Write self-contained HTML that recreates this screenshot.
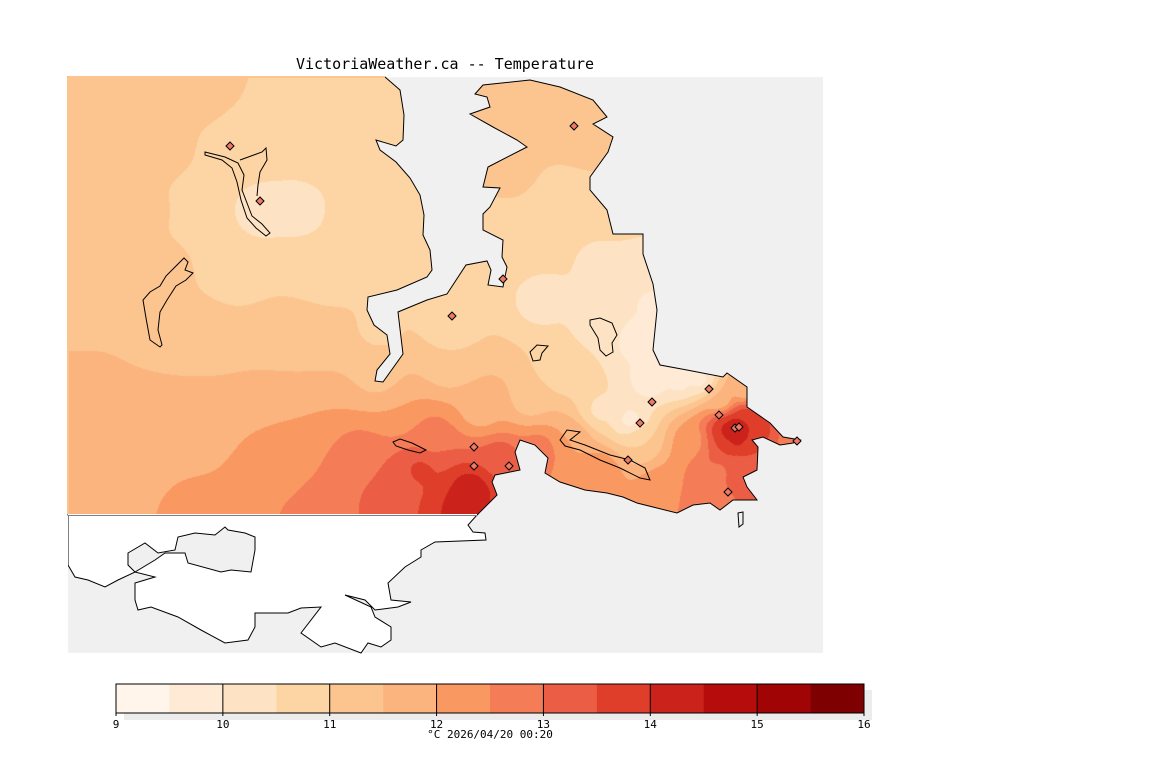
<!DOCTYPE html>
<html><head><meta charset="utf-8"><style>
html,body{margin:0;padding:0;background:#fff;}
#wrap{position:relative;width:1152px;height:768px;overflow:hidden;}
canvas,svg{position:absolute;left:0;top:0;}
text{font-family:"DejaVu Sans Mono","Liberation Mono",monospace;}
</style></head><body>
<div id="wrap">
<canvas id="cv" width="1152" height="768"></canvas>
<svg id="sv" width="1152" height="768"></svg>
</div>
<script>
// Control observations: easting / northing in km (map units), temperature °C
const obsE = [0.7,13.2,25.2,32.2, 0.7,9.2,17.2,26.2,33.2, 0.7,8.2,13.2,19.2,23.2,28.2,34.2, 0.7,9.2,16.2,25.2,33.2, 0.7,13.2,23.2,31.2,38.2, 0.7,18.2,31.2,38.2, 0.7,13.2,23.2,33.2,41.2, 0.7,11.2,21.2,29.2,35.2,40.2,43.2, 0.7,13.2,25.2,33.2,37.7,
 43.2,50.2,53.2,44.2,49.2,53.2,45.2,53.2,57.2,47.2,53.2,57.2,58.2,49.2,46.2,53.2,57.2,50.2,53.2,59.2,63.2,63.2,65.2,66.9,69.2,72.2,68.2,65.2,62.2,67.7,
 39.2,33.2,36.2,56.2,61.2,58.2,66.9,65.7,67.7,66.9,47.2];
const obsN = [56.3,56.3,56.3,56.3, 50.3,50.3,50.3,50.3,50.3, 44.3,44.3,44.3,44.3,44.3,43.8,42.3, 38.3,38.3,38.3,38.3,38.3, 32.3,32.3,32.3,32.3,33.3, 28.3,28.3,27.8,29.3, 23.3,22.3,23.3,24.3,24.3, 18.3,18.3,18.3,19.3,18.3,16.3,19.3, 13.8,13.8,13.8,13.8,13.8,
 55.3,54.3,51.3,48.3,45.3,44.3,40.3,39.3,37.3,35.3,33.3,31.3,27.3,28.3,25.3,24.3,21.3,21.3,18.3,16.3,15.3,27.3,25.3,22.5,22.3,21.3,18.3,18.3,21.3,26.3,
 14.3,16.3,21.3,23.3,27.3,35.3,20.8,22.5,23.8,19.3,20.3];
const obsT = [11.3,11.2,10.8,10.8, 11.3,11.2,10.7,10.7,10.7, 11.3,11.1,10.6,10.3,10.3,10.6,10.5, 11.3,11.2,10.7,10.8,10.6, 11.4,11.2,11.1,10.9,10.6, 11.6,11.5,11.3,11.0, 11.7,11.9,12.0,12.0,11.8, 11.8,12.0,12.4,12.9,13.6,14.4,13.4, 11.9,12.1,12.8,13.4,14.0,
 11.3,11.3,11.2,11.1,10.9,10.7,10.6,10.4,10.2,10.3,10.2,9.6,9.6,10.6,11.3,10.4,11.0,12.0,12.4,12.4,12.6,9.8,11.5,14.9,13.6,12.7,13.2,12.9,12.2,11.5,
 14.3,13.3,12.9,9.8,9.8,9.9,14.1,14.1,13.8,13.3,12.8];
// Station markers (km)
const stE = [16.2,19.2,50.6,43.5,38.4,58.4,57.2,64.1,65.1,66.7,67.1,40.6,40.6,44.1,66.0,72.9,56.0];
const stN = [50.7,45.2,52.7,37.4,33.7,25.1,23.0,26.4,23.8,22.5,22.6,20.6,18.7,18.7,16.1,21.2,19.3];
// Colour bar
const levels = [9,9.5,10,10.5,11,11.5,12,12.5,13,13.5,14,14.5,15,15.5,16];
const colors = ["#fff5eb","#feead5","#fde3c3","#fdd5a5","#fcc590","#fcb47e","#fa9862","#f47c56","#eb5e45","#de3e2a","#cb231c","#b70c0c","#a00404","#7f0000"];
const tickLabels = ["9","10","11","12","13","14","15","16"];

const X = e => 68 + e*10, Y = n => 653 - n*10;
const cbX = v => 116 + (v-9)/(16-9)*748;

const landD = "M68,77 L385,77 L400,90 L404,115 L403,140 L396,146 L376,140 L380,150 L396,162 L410,178 L420,195 L424,215 L423,235 L430,250 L432,270 L427,277 L397,290 L368,297 L367,310 L374,325 L387,335 L390,354 L377,370 L375,381 L383,382 L403,354 L398,312 L427,300 L447,294 L466,265 L487,261 L491,270 L488,285 L503,287 L507,267 L502,257 L503,240 L483,230 L483,214 L490,207 L500,188 L483,187 L488,167 L527,147 L517,140 L493,127 L470,114 L490,107 L487,97 L475,94 L483,85 L530,80 L560,87 L593,100 L607,117 L593,124 L613,137 L608,152 L590,177 L590,190 L607,210 L613,234 L643,234 L643,254 L653,284 L657,310 L653,350 L660,365 L687,370 L723,377 L727,373 L747,387 L747,407 L770,423 L783,437 L800,440 L793,443 L780,445 L763,437 L752,440 L758,447 L757,470 L743,477 L747,487 L757,500 L733,500 L720,510 L710,503 L693,505 L677,513 L653,507 L637,503 L623,497 L607,493 L585,490 L560,482 L545,473 L548,458 L535,445 L520,440 L515,452 L520,470 L510,472 L495,475 L492,482 L497,495 L490,502 L477,515 L68,515 Z";

const cv = document.getElementById('cv'), ctx = cv.getContext('2d');
ctx.fillStyle = "#f0f0f0"; ctx.fillRect(68,77,755,576);
const off = document.createElement('canvas'); off.width=1152; off.height=768;
const oc = off.getContext('2d'); const img = oc.createImageData(755,438);
const rgb = colors.map(c=>[parseInt(c.substr(1,2),16),parseInt(c.substr(3,2),16),parseInt(c.substr(5,2),16)]);
const px = obsE.map(X), py = obsN.map(Y);
for (let y=0;y<438;y++) for (let x=0;x<755;x++){
  const gx=68+x, gy=77+y; let sw=0, st=0;
  for (let i=0;i<px.length;i++){ const dx=gx-px[i], dy=gy-py[i]; const d2=dx*dx+dy*dy+64; const w=1/(d2*Math.sqrt(d2)); sw+=w; st+=w*obsT[i]; }
  const t=st/sw; let b=Math.floor((t-9)/0.5); b=Math.max(0,Math.min(13,b));
  const k=(y*755+x)*4; img.data[k]=rgb[b][0]; img.data[k+1]=rgb[b][1]; img.data[k+2]=rgb[b][2]; img.data[k+3]=255;
}
oc.putImageData(img,68,77);
ctx.save(); ctx.clip(new Path2D(landD)); ctx.drawImage(off,0,0); ctx.restore();

const NS="http://www.w3.org/2000/svg", sv=document.getElementById('sv');
function mk(tag, attrs, parent){ const el=document.createElementNS(NS,tag); for(const k in attrs) el.setAttribute(k,attrs[k]); (parent||sv).appendChild(el); return el; }

const white = mk('path',{d:"M68,515 L477,515 L468,525 L473,532 L485,533 L486,540 L435,542 L421,550 L421,557 L405,567 L388,583 L391,600 L411,602 L398,607 L375,610 L365,600 L345,595 L371,607 L375,617 L391,627 L391,640 L381,647 L368,643 L361,653 L335,643 L321,647 L301,633 L321,607 L301,608 L288,613 L255,613 L255,627 L248,640 L225,643 L201,630 L178,617 L151,607 L138,610 L135,600 L135,583 L155,577 L135,572 L118,580 L105,587 L88,580 L75,577 L68,565 Z",fill:"#fff",stroke:"#000","stroke-width":1});
 
const lobe = mk('path',{d:"M128,553 L145,543 L158,553 L175,550 L178,537 L195,533 L215,535 L225,527 L228,530 L245,533 L255,537 L255,550 L251,572 L231,570 L221,572 L188,563 L185,553 L165,553 L155,560 L135,572 L128,565 Z",fill:"#f0f0f0",stroke:"#000","stroke-width":1});
 
const cover = mk('rect',{x:66,y:514,width:411,height:2,fill:"#fff"});
 
const cover2 = mk('rect',{x:66,y:514,width:2,height:52,fill:"#fff"});
 

const coast = mk('path',{d:landD,fill:"none",stroke:"#000","stroke-width":1});
 
const topEdge = mk('rect',{x:68,y:76,width:317,height:2,fill:"#fcc590"});
 
const leftEdge = mk('rect',{x:67,y:77,width:2,height:437,fill:"#fcc590"});
 
const bottomEdge = mk('rect',{x:68,y:514,width:409,height:1,fill:"#fff"});
 

const outlines = [
 "M205,152 L225,157 L238,163 L244,175 L242,190 L247,203 L252,216 L262,224 L270,233 L266,236 L256,228 L247,218 L241,200 L237,182 L232,168 L222,160 L205,155 Z M240,160 L262,152 L266,148 L267,160 L260,172 L258,185 L257,196",
 "M160,347 L150,340 L146,318 L143,300 L150,292 L160,286 L166,276 L176,266 L184,258 L188,262 L185,270 L193,273 L186,280 L176,286 L167,300 L160,312 L158,330 L162,345 Z",
 "M590,320 L600,318 L612,323 L617,335 L612,343 L613,352 L606,356 L600,350 L598,338 L590,325 Z",
 "M530,352 L537,345 L548,346 L542,353 L540,360 L533,361 Z",
 "M393,442 L400,439 L412,443 L420,447 L426,450 L420,453 L408,450 L396,446 Z",
 "M560,440 L567,430 L580,432 L570,440 L585,445 L610,455 L630,460 L645,468 L650,480 L640,478 L620,468 L600,460 L580,450 L565,446 Z",
 "M738,513 L743,512 L743,524 L739,527 Z"
];
outlines.forEach((d,i)=>{ const o=mk('path',{d:d,fill:"none",stroke:"#000","stroke-width":1});
   });

for (let i=0;i<stE.length;i++){
 const cx=X(stE[i]), cy=Y(stN[i]);
 const s=mk('path',{d:`M${cx},${cy-4} L${cx+4},${cy} L${cx},${cy+4} L${cx-4},${cy} Z`,fill:"#ee7a66",stroke:"#000","stroke-width":1});
  
}

const title = mk('text',{x:445,y:69,"text-anchor":"middle","font-size":"15",fill:"#000"});
title.textContent="VictoriaWeather.ca -- Temperature";
 

const shadow = mk('rect',{x:124,y:690,width:748,height:30,fill:"#ececec"});
 
for (let i=0;i<colors.length;i++){
 const r=mk('rect',{x:cbX(levels[i]),y:684,width:cbX(levels[i+1])-cbX(levels[i])+0.5,height:29,fill:colors[i]});
  
}
const frame = mk('rect',{x:116,y:684,width:748,height:29,fill:"none",stroke:"#000","stroke-width":1});
 
tickLabels.forEach(l=>{
 const v=+l, x=cbX(v);
 const t=mk('line',{x1:x,y1:684,x2:x,y2:716,stroke:"#000","stroke-width":1});
  
 const tx=mk('text',{x:x,y:728,"text-anchor":"middle","font-size":"11",fill:"#000"});
 tx.textContent=l;
  
});
const unit = mk('text',{x:490,y:738,"text-anchor":"middle","font-size":"11",fill:"#000"});
unit.textContent="°C  2026/04/20 00:20";
 
</script>
</body></html>
